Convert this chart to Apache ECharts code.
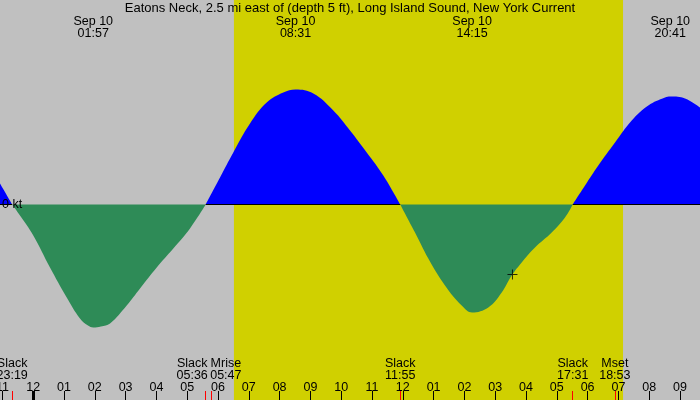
<!DOCTYPE html>
<html><head><meta charset="utf-8">
<script src="https://cdn.jsdelivr.net/npm/echarts@6/dist/echarts.min.js"></script>
<style>html,body{margin:0;padding:0;background:#c0c0c0}#c{width:700px;height:400px}</style>
</head><body><div id="c"></div>
<script>
const chartTitle = 'Eatons Neck, 2.5 mi east of (depth 5 ft), Long Island Sound, New York Current';
const dateLabel = 'Sep 10';
// current samples: hours from midnight of Sep 10; knots (+ flood, - ebb)
const curveHours = [-1.078, -0.88, -0.683,
  -0.429, 0.003, 0.545, 1.088, 1.519, 1.779, 1.95, 2.2, 2.494, 3.036, 3.468, 4.010, 4.549, 5.091, 5.6,
  6.065, 6.497, 7.039, 7.581, 8.12, 8.517, 9.094, 9.744, 10.286, 10.828, 11.367, 11.917,
  12.396, 12.828, 13.37, 13.912, 14.25, 14.776, 15.211, 15.536, 15.86, 16.292, 16.834, 17.266, 17.517,
  17.916, 18.347, 18.89, 19.432, 19.971, 20.513, 20.683, 21.162, 21.649];
const curveKnots = [0.21, 0.105, 0,
  -0.11, -0.31, -0.63, -0.93, -1.14, -1.21, -1.23, -1.22, -1.19, -1.01, -0.84, -0.63, -0.44, -0.24, 0,
  0.27, 0.52, 0.81, 1.02, 1.12, 1.15, 1.11, 0.94, 0.74, 0.52, 0.29, 0,
  -0.28, -0.54, -0.81, -1.01, -1.08, -1.03, -0.88, -0.71, -0.58, -0.43, -0.28, -0.13, 0,
  0.19, 0.39, 0.62, 0.84, 0.99, 1.07, 1.08, 1.06, 0.97];
const extremeClock = ['01:57', '08:31', '14:15', '20:41'];
const eventNames = ['Slack', 'Slack', 'Mrise', 'Slack', 'Slack', 'Mset'];
const eventClock = ['23:19', '05:36', '05:47', '11:55', '17:31', '18:53'];
const eventDayOffset = [-1, 0, 0, 0, 0, 0];
const sunriseClock = '06:31';
const sunsetClock = '19:09';
const hourTicks = [-1,0,1,2,3,4,5,6,7,8,9,10,11,12,13,14,15,16,17,18,19,20,21];
const dayStartTicks = [0];
const markerHour = 15.56;
const markerKnots = -0.70;
const axisStartHour = -1.078;
const axisEndHour = 21.649;
const knotMin = -1.955, knotMax = 2.045;

// styling (not data)
const eventLabelStyle = ['c', 'l', 'r', 'c', 'c', 'c'];
const FONT = 'Liberation Sans';
const FS = 12.5;

function clockToHours(s, day) { const p = s.split(':'); return (day || 0) * 24 + (+p[0]) + (+p[1]) / 60; }
function fmtHour(h) { let hh = ((Math.round(h) % 24) + 24) % 24; let h12 = hh % 12 === 0 ? 12 : hh % 12; return (h12 < 10 ? '0' : '') + h12; }

const eventHours = eventClock.map((c, i) => clockToHours(c, eventDayOffset[i]));
const extremeHours = extremeClock.map(c => clockToHours(c, 0));

const posData = curveHours.map((t, i) => curveKnots[i] >= 0 ? [t, curveKnots[i]] : [t, '-']);
const negData = curveHours.map((t, i) => curveKnots[i] <= 0 ? [t, curveKnots[i]] : [t, '-']);
// datum line under flood lobes
const datumData = [];
let runStart = null, runEnd = null;
posData.forEach(p => {
  if (p[1] !== '-') { if (runStart === null) runStart = p[0]; runEnd = p[0]; }
  else if (runStart !== null) { datumData.push([runStart, 0], [runEnd, 0], [runEnd, '-']); runStart = null; }
});
if (runStart !== null) datumData.push([runStart, 0], [runEnd, 0]);

function nearestIdx(arr, v) { let b = 0; arr.forEach((a, i) => { if (Math.abs(a - v) < Math.abs(arr[b] - v)) b = i; }); return b; }

const baseAxis = { type: 'value', min: axisStartHour, max: axisEndHour, gridIndex: 0, z: 6,
  axisLine: { show: false, onZero: false }, splitLine: { show: false } };
const txt = { fontFamily: FONT, fontSize: FS, lineHeight: 12, color: '#000' };

const chart = echarts.init(document.getElementById('c'), null, { renderer: 'canvas' });
chart.setOption({
  backgroundColor: '#c0c0c0',
  animation: false,
  title: { text: chartTitle, left: 'center', top: 2, padding: 0, z: 6,
    textStyle: { fontFamily: FONT, fontSize: 13, fontWeight: 'normal', color: '#000', lineHeight: 12 } },
  grid: { left: 0, right: 0, top: 0, bottom: 0, containLabel: false, outerBoundsMode: 'none' },
  xAxis: [
    Object.assign({}, baseAxis, { position: 'bottom',
      axisTick: { show: true, inside: true, length: 9, customValues: hourTicks, lineStyle: { color: '#000', width: 1 } },
      axisLabel: Object.assign({ show: true, inside: true, margin: 6.5, customValues: hourTicks, formatter: v => fmtHour(v) }, txt) }),
    Object.assign({}, baseAxis, { position: 'bottom',
      axisTick: { show: true, inside: true, length: 9, customValues: eventHours, lineStyle: { color: '#ff0000', width: 1 } },
      axisLabel: Object.assign({ show: true, inside: true, margin: 18.5, customValues: eventHours,
        formatter: (v) => { const i = nearestIdx(eventHours, v); const s = eventLabelStyle[i]; return '{' + s + '|' + eventNames[i] + '}\n{' + s + '|' + eventClock[i] + '}'; },
        rich: {
          c: Object.assign({}, txt),
          l: Object.assign({ padding: [0, 27, 0, 0] }, txt),
          r: Object.assign({ padding: [0, 0, 0, 29] }, txt)
        } }, txt) }),
    Object.assign({}, baseAxis, { position: 'bottom',
      axisTick: { show: true, inside: true, length: 9, customValues: dayStartTicks, lineStyle: { color: '#000', width: 3 } },
      axisLabel: { show: false } }),
    Object.assign({}, baseAxis, { position: 'top',
      axisTick: { show: false },
      axisLabel: Object.assign({ show: true, inside: true, margin: 15.5, customValues: extremeHours,
        formatter: (v) => { const i = nearestIdx(extremeHours, v); return dateLabel + '\n' + extremeClock[i]; } }, txt) })
  ],
  yAxis: { type: 'value', min: knotMin, max: knotMax, z: 6, axisLine: { show: false, onZero: false }, splitLine: { show: false },
    axisTick: { show: false },
    axisLabel: Object.assign({ show: true, inside: true, margin: 2, customValues: [0], formatter: () => '0 kt' }, txt) },
  series: [
    { type: 'line', name: 'daylight', data: [], z: 0, silent: true,
      markArea: { silent: true, itemStyle: { color: '#d0d000' },
        data: [[{ xAxis: clockToHours(sunriseClock) }, { xAxis: clockToHours(sunsetClock) }]] } },
    { type: 'line', name: 'flood', data: posData, smooth: 0.4, symbol: 'none', z: 2,
      lineStyle: { width: 0 }, areaStyle: { color: '#0000ff', opacity: 1, origin: 0 } },
    { type: 'line', name: 'ebb', data: negData, smooth: 0.4, symbol: 'none', z: 2,
      lineStyle: { width: 0 }, areaStyle: { color: '#2e8b57', opacity: 1, origin: 0 } },
    { type: 'line', name: 'datum', data: datumData, symbol: 'none', z: 3,
      lineStyle: { width: 1, color: '#000' } },
    { type: 'scatter', name: 'now', data: [[markerHour, markerKnots]], z: 5,
      symbol: 'path://M0,4.5H10V5.5H0Z M4.5,0H5.5V10H4.5Z', symbolSize: 10, itemStyle: { color: '#000' } }
  ]
});
</script></body></html>
